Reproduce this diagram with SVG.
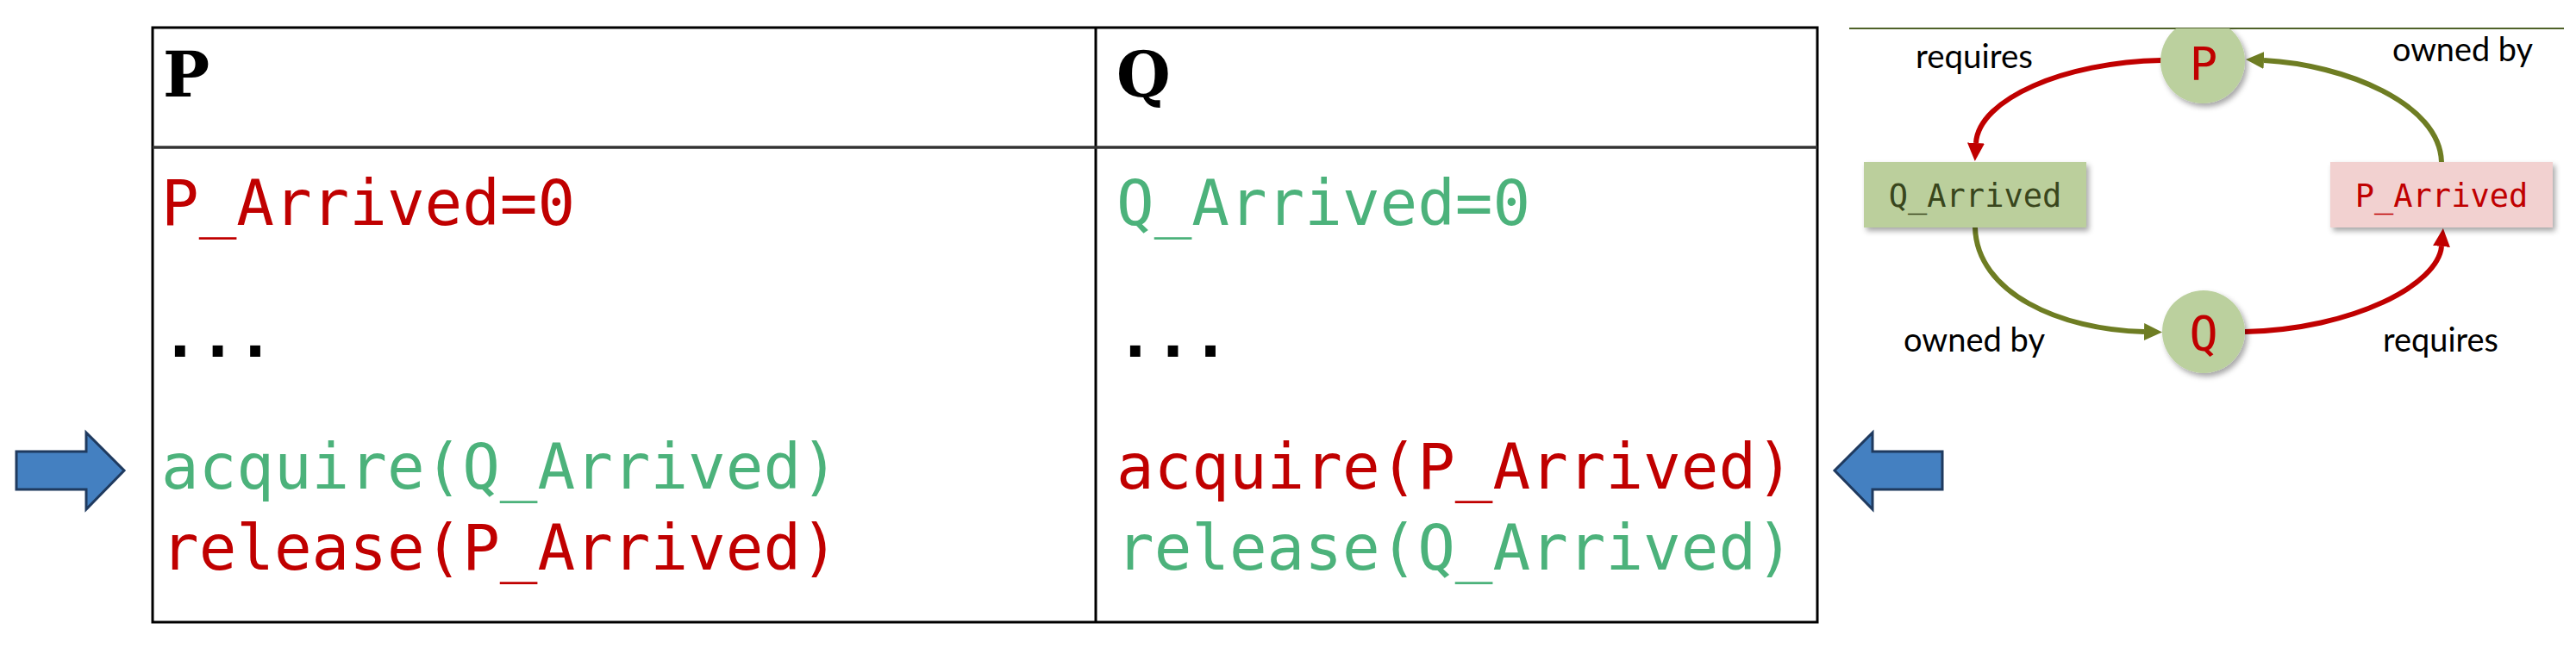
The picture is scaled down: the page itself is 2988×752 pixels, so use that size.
<svg xmlns="http://www.w3.org/2000/svg" width="2988" height="752" viewBox="0 0 2988 752">
<style>
.code{font-family:"DejaVu Sans Mono","Liberation Mono",monospace;font-size:72.5px}
.hdr{font-family:"DejaVu Serif","Liberation Serif",serif;font-size:72px;font-weight:bold;fill:#000}
.red{fill:#C00000}
.grn{fill:#4CB27B}
.lbl{font-family:Lato,"Liberation Sans",sans-serif;font-size:38px;fill:#000}
.node{font-family:"DejaVu Sans Mono","Liberation Mono",monospace}
.edge{fill:none;stroke-width:6}
.bigarrow{fill:#4480C1;stroke:#1F3A5F;stroke-width:3;stroke-linejoin:miter}
</style>
<defs>
<filter id="sh" x="-20%" y="-20%" width="150%" height="150%">
<feDropShadow dx="3" dy="4" stdDeviation="3" flood-color="#000" flood-opacity="0.35"/>
</filter>
<clipPath id="topclip"><rect x="2400" y="33" width="400" height="200"/></clipPath>
<marker id="mr" markerUnits="userSpaceOnUse" markerWidth="22" markerHeight="21" refX="0" refY="10" orient="auto" viewBox="0 0 22 21"><path d="M0,0 L21,10 L0,20 z" fill="#C00000"/></marker>
<marker id="mo" markerUnits="userSpaceOnUse" markerWidth="22" markerHeight="21" refX="0" refY="10" orient="auto" viewBox="0 0 22 21"><path d="M0,0 L21,10 L0,20 z" fill="#6E7D23"/></marker>
</defs>
<rect width="2988" height="752" fill="#fff"/>

<g id="table">
<rect x="177" y="32" width="1931" height="690" fill="none" stroke="#000" stroke-width="3"/>
<line x1="1271" y1="32" x2="1271" y2="722" stroke="#000" stroke-width="3"/>
<line x1="177" y1="171" x2="2108" y2="171" stroke="#333" stroke-width="3.5"/>
<text class="hdr" x="189" y="112">P</text>
<text class="hdr" x="1295" y="112">Q</text>
<text class="code red" x="187" y="261">P_Arrived=0</text>
<text class="code" x="187" y="414" font-weight="bold">...</text>
<text class="code grn" x="187" y="567">acquire(Q_Arrived)</text>
<text class="code red" x="187" y="661">release(P_Arrived)</text>
<text class="code grn" x="1295" y="261">Q_Arrived=0</text>
<text class="code" x="1295" y="414" font-weight="bold">...</text>
<text class="code red" x="1295" y="567">acquire(P_Arrived)</text>
<text class="code grn" x="1295" y="661">release(Q_Arrived)</text>
</g>

<g id="arrow-left">
<polygon class="bigarrow" points="19,524 100,524 100,502 144,546 100,591 100,568 19,568"/>
</g>
<g id="arrow-right">
<polygon class="bigarrow" points="2253,524 2172,524 2172,502 2128,546 2172,591 2172,568 2253,568"/>
</g>

<line x1="2145" y1="33" x2="2974" y2="33" stroke="#4F6228" stroke-width="2"/>

<g id="connectors">
<path class="edge" stroke="#C00000" d="M2507,70 C2395,72 2295,115 2292,166" marker-end="url(#mr)"/>
<path class="edge" stroke="#6E7D23" d="M2832,188 C2830,120 2720,75 2626,70" marker-end="url(#mo)"/>
<path class="edge" stroke="#6E7D23" d="M2291,264 C2293,340 2390,383 2487,385" marker-end="url(#mo)"/>
<path class="edge" stroke="#C00000" d="M2604,385 C2730,382 2828,330 2832,286" marker-end="url(#mr)"/>
<text class="lbl" x="2222" y="79" textLength="136" lengthAdjust="spacingAndGlyphs">requires</text>
<text class="lbl" x="2775" y="71" textLength="163" lengthAdjust="spacingAndGlyphs">owned by</text>
<text class="lbl" x="2208" y="408" textLength="164" lengthAdjust="spacingAndGlyphs">owned by</text>
<text class="lbl" x="2764" y="408" textLength="134" lengthAdjust="spacingAndGlyphs">requires</text>
</g>

<g id="node-P">
<g clip-path="url(#topclip)">
<circle cx="2555" cy="71" r="49" fill="#BBD09E" filter="url(#sh)"/>
</g>
<text class="node red" x="2556" y="93" font-size="54" text-anchor="middle">P</text>
</g>

<g id="node-Q">
<circle cx="2556" cy="385" r="48" fill="#BBD09E" filter="url(#sh)"/>
<text class="node red" x="2556" y="406" font-size="55" text-anchor="middle">Q</text>
</g>

<g id="node-Q_Arrived">
<rect x="2162" y="188" width="258" height="76" fill="#BBCF9C" filter="url(#sh)"/>
<text class="node" x="2291" y="240" font-size="37" text-anchor="middle" fill="#39461C">Q_Arrived</text>
</g>

<g id="node-P_Arrived">
<rect x="2703" y="188" width="258" height="76" fill="#F2D1D0" filter="url(#sh)"/>
<text class="node red" x="2832" y="240" font-size="37" text-anchor="middle">P_Arrived</text>
</g>
</svg>
